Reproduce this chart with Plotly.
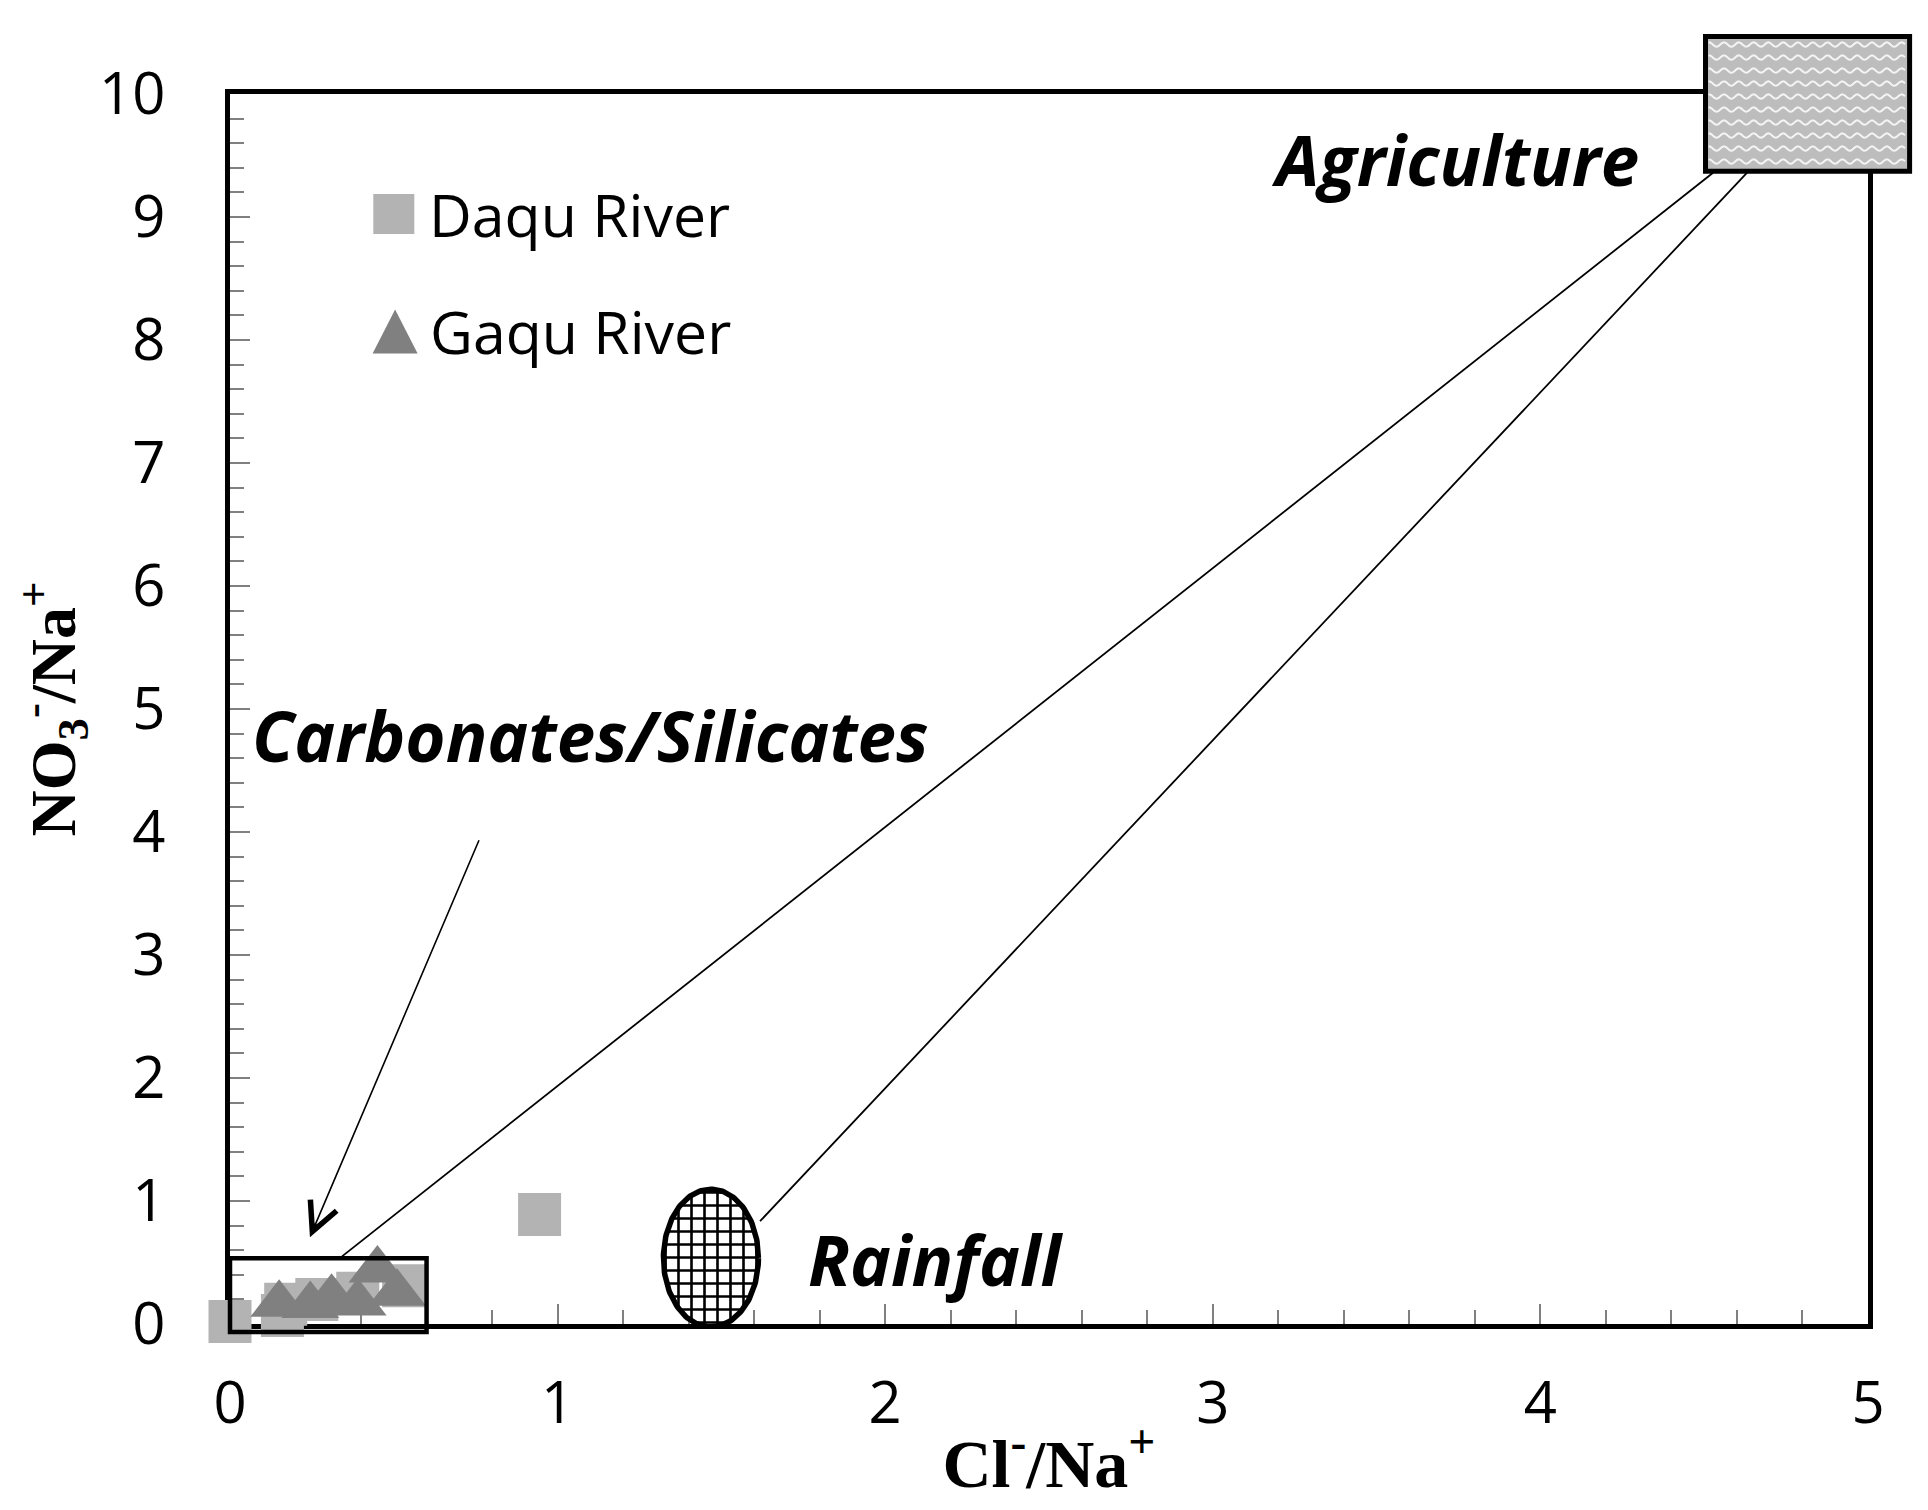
import numpy as np
import plotly.graph_objects as go

# ---------------- data ----------------
daqu_x = [0.0, 0.16, 0.17, 0.265, 0.39, 0.53, 0.945]
daqu_y = [0.02, 0.07, 0.16, 0.20, 0.25, 0.31, 0.89]

gaqu_x = [0.15, 0.245, 0.31, 0.39, 0.45, 0.51]
gaqu_y = [0.16, 0.15, 0.21, 0.17, 0.44, 0.25]

x_range = [0, 5]
y_range = [0, 10]
x_ticks = [0, 1, 2, 3, 4, 5]
y_ticks = [0, 1, 2, 3, 4, 5, 6, 7, 8, 9, 10]

# end-member regions (data units)
agri_box = dict(x0=4.504, x1=5.127, y0=9.371, y1=10.467)
carb_box = dict(x0=0.0, x1=0.60, y0=-0.065, y1=0.535)
rain_center = (1.468, 0.536)
rain_radius = (0.145, 0.56)

# mixing lines and arrow (data units)
mix_lines = [((4.527, 9.36), (0.342, 0.55)),
             ((4.631, 9.36), (1.618, 0.836))]
arrow_tail = (0.762, 3.945)
arrow_head = (0.244, 0.706)

labels = [("Agriculture", 3.74, 9.47),
          ("Carbonates/Silicates", 1.10, 4.79),
          ("Rainfall", 2.155, 0.53)]

legend_items = [("Daqu River", 0.50, 9.025, "square"),
                ("Gaqu River", 0.504, 8.07, "triangle")]

DAQU_COLOR = "#b3b3b3"
GAQU_COLOR = "#808080"


def dx(v):
    return (v - x_range[0]) / (x_range[1] - x_range[0])


def dy(v):
    return (v - y_range[0]) / (y_range[1] - y_range[0])


fig = go.Figure()

# Rainfall ellipse (cross-hatched)
th = np.linspace(0, 2 * np.pi, 181)
ex = rain_center[0] + rain_radius[0] * np.cos(th)
ey = rain_center[1] + rain_radius[1] * np.sin(th)
fig.add_trace(go.Scatter(
    x=ex, y=ey, mode="lines", fill="toself",
    line=dict(color="black", width=5.5),
    fillcolor="white",
    fillpattern=dict(shape="+", size=13, solidity=0.36,
                     fgcolor="black", bgcolor="white", fgopacity=1),
    hoverinfo="skip", showlegend=False))

fig.add_trace(go.Scatter(
    x=daqu_x, y=daqu_y, mode="markers", name="Daqu River",
    marker=dict(symbol="square", size=43, color=DAQU_COLOR, line=dict(width=0)),
    cliponaxis=False, showlegend=False))

fig.add_trace(go.Scatter(
    x=gaqu_x, y=gaqu_y, mode="markers", name="Gaqu River",
    marker=dict(symbol="triangle-up", size=50, color=GAQU_COLOR, line=dict(width=0)),
    cliponaxis=False, showlegend=False))

shapes = []
# mixing lines
for (p0, p1) in mix_lines:
    shapes.append(dict(type="line", xref="x", yref="y",
                       x0=p0[0], y0=p0[1], x1=p1[0], y1=p1[1],
                       line=dict(color="black", width=1.8), layer="above"))

# Carbonates/Silicates box
shapes.append(dict(type="rect", xref="x domain", yref="y domain",
                   x0=dx(carb_box["x0"]), x1=dx(carb_box["x1"]),
                   y0=dy(carb_box["y0"]), y1=dy(carb_box["y1"]),
                   line=dict(color="black", width=4.5), fillcolor="rgba(0,0,0,0)",
                   layer="above"))

# Agriculture box (grey with white wavy pattern)
shapes.append(dict(type="rect", xref="x domain", yref="y domain",
                   x0=dx(agri_box["x0"]), x1=dx(agri_box["x1"]),
                   y0=dy(agri_box["y0"]), y1=dy(agri_box["y1"]),
                   line=dict(width=0), fillcolor="#bdbdbd", layer="above"))
parts = []
for r in range(10):
    base = -(8 + 13 * r)
    xs = np.arange(3, 201, 1.5)
    seg = []
    for i, xx in enumerate(xs):
        yy = base + 2.2 * np.sin(2 * np.pi * xx / 14.8)
        seg.append(("M" if i == 0 else "L") + f"{xx:.2f},{yy:.2f}")
    parts.append(" ".join(seg))
shapes.append(dict(type="path", xref="x domain", yref="y domain",
                   xsizemode="pixel", ysizemode="pixel",
                   xanchor=dx(agri_box["x0"]), yanchor=dy(agri_box["y1"]),
                   path=" ".join(parts), line=dict(color="#f4f4f4", width=2),
                   fillcolor="rgba(0,0,0,0)", layer="above"))
shapes.append(dict(type="rect", xref="x domain", yref="y domain",
                   x0=dx(agri_box["x0"]), x1=dx(agri_box["x1"]),
                   y0=dy(agri_box["y0"]), y1=dy(agri_box["y1"]),
                   line=dict(color="black", width=5), fillcolor="rgba(0,0,0,0)",
                   layer="above"))

# custom legend symbols
for name, lx, ly, sym in legend_items:
    if sym == "square":
        shapes.append(dict(type="rect", xref="x", yref="y",
                           xsizemode="pixel", ysizemode="pixel",
                           xanchor=lx, yanchor=ly, x0=-20.5, x1=20.5, y0=-20, y1=20,
                           fillcolor=DAQU_COLOR, line=dict(width=0), layer="above"))
    else:
        shapes.append(dict(type="path", xref="x", yref="y",
                           xsizemode="pixel", ysizemode="pixel",
                           xanchor=lx, yanchor=ly,
                           path="M-22.5,-22 L22.5,-22 L0,22 Z",
                           fillcolor=GAQU_COLOR, line=dict(width=0), layer="above"))

annotations = []
for name, lx, ly, sym in legend_items:
    annotations.append(dict(x=lx + 0.1, y=ly, xref="x", yref="y", text=name,
                            showarrow=False, xanchor="left", yanchor="middle",
                            font=dict(family="Open Sans", size=59, color="black")))
for txt, tx, ty in labels:
    annotations.append(dict(x=tx, y=ty, xref="x", yref="y", text=txt,
                            showarrow=False, xanchor="center", yanchor="middle",
                            font=dict(family="Open Sans", size=69, color="black",
                                      weight="bold", style="italic")))
annotations.append(dict(x=arrow_head[0], y=arrow_head[1], xref="x", yref="y",
                        ax=arrow_tail[0], ay=arrow_tail[1], axref="x", ayref="y",
                        text="", showarrow=True, arrowhead=5, arrowsize=3.5,
                        arrowwidth=1.6, arrowcolor="black", standoff=0,
                        startstandoff=0))

axis_common = dict(
    showline=True, linewidth=5, linecolor="black", mirror=True,
    showgrid=False, zeroline=False, layer="below traces",
    ticks="inside", ticklen=20, tickwidth=2, tickcolor="#808080",
    tickfont=dict(family="Open Sans", size=58, color="black"),
)

fig.update_layout(
    width=1928, height=1510,
    margin=dict(l=222, r=68, t=86, b=194),
    plot_bgcolor="white", paper_bgcolor="white",
    showlegend=False,
    shapes=shapes, annotations=annotations,
    xaxis=dict(range=x_range, tickvals=x_ticks,
               minor=dict(dtick=0.2, tick0=0, ticks="inside", ticklen=14,
                          tickwidth=2, tickcolor="#808080"),
               ticklabelstandoff=24,
               title=dict(text="Cl<sup>-</sup>/Na<sup>+</sup>", standoff=2,
                          font=dict(family="Liberation Serif", size=68,
                                    color="black", weight="bold")),
               **axis_common),
    yaxis=dict(range=y_range, tickvals=y_ticks,
               minor=dict(dtick=0.2, tick0=0, ticks="inside", ticklen=14,
                          tickwidth=2, tickcolor="#808080"),
               ticklabelstandoff=48,
               title=dict(text="NO<sub>3</sub><sup>-</sup>/Na<sup>+</sup>", standoff=15,
                          font=dict(family="Liberation Serif", size=64,
                                    color="black", weight="bold")),
               **axis_common),
)

fig.write_html("out.html")
